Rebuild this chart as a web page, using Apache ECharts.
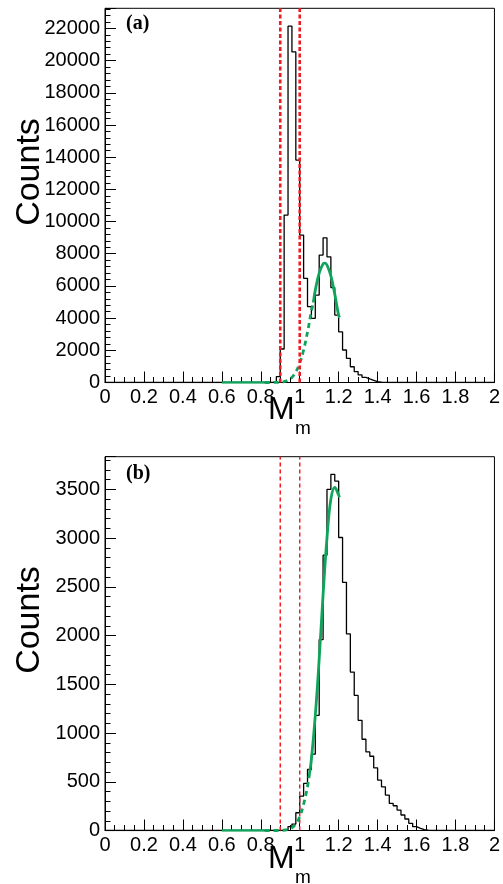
<!DOCTYPE html>
<html>
<head>
<meta charset="utf-8">
<script src="https://cdn.jsdelivr.net/npm/echarts@6/dist/echarts.min.js"></script>
<style>
  html, body { margin: 0; padding: 0; background: #fff; }
  #chart { width: 503px; height: 884px; }
</style>
</head>
<body>
<div id="chart"></div>
<script>
// ---------- data ----------
const binWidth = 0.02;
const xTickLabels = ['0', '0.2', '0.4', '0.6', '0.8', '1', '1.2', '1.4', '1.6', '1.8', '2'];

// panel (a)
const xStartA = 0.86;
const countsA = [60, 360, 2080, 10400, 22140, 20540, 13820, 9160, 6470, 4710, 3990, 5430, 7920, 8990, 7810, 5900, 4190, 3150, 2020, 1500, 980, 670, 470, 320, 220, 135, 50, 25, 10];
const yMaxA = 23250;
const fitABaseX = [0.60, 0.82];
const fitABaseY = [0, 0];
const fitADashX = [0.82, 0.84, 0.86, 0.88, 0.90, 0.92, 0.94, 0.96, 0.98, 1.00, 1.02, 1.04, 1.06, 1.07];
const fitADashY = [0, 1, 3, 8, 23, 60, 144, 320, 650, 1200, 2020, 3130, 4430, 4970];
const fitASolidX = [1.07, 1.08, 1.10, 1.12, 1.13, 1.14, 1.16, 1.18, 1.20, 1.205];
const fitASolidY = [4970, 5740, 6800, 7370, 7420, 7300, 6620, 5490, 4170, 4050];

// panel (b)
const xStartB = 0.92;
const countsB = [8, 40, 66, 182, 353, 483, 626, 783, 1182, 1959, 2825, 3500, 3654, 3585, 3006, 2546, 2017, 1625, 1386, 1130, 936, 806, 762, 643, 517, 448, 363, 278, 254, 210, 159, 118, 74, 39, 22, 8, 3];
const yMaxB = 3835;
const fitBBaseX = [0.60, 0.82];
const fitBBaseY = [0, 0];
const fitBDashX = [0.82, 0.86, 0.88, 0.90, 0.92, 0.94, 0.96, 0.98, 1.00, 1.02, 1.04, 1.05];
const fitBDashY = [0, 0, 0, 1, 4, 10, 28, 70, 140, 270, 450, 580];
const fitBSolidX = [1.05, 1.06, 1.08, 1.10, 1.12, 1.14, 1.16, 1.18, 1.20, 1.205];
const fitBSolidY = [580, 730, 1180, 1760, 2420, 3000, 3400, 3520, 3440, 3420];

// cut lines
const cutX = [0.90, 1.00];

// ---------- helpers ----------
function histData(start, counts) {
  const nBins = Math.round(2 / binWidth);
  const out = [];
  for (let i = 0; i <= nBins; i++) {
    const x = +(i * binWidth).toFixed(4);
    const idx = Math.round((x - start) / binWidth);
    const k = i === nBins ? idx - 1 : idx;
    const y = (k >= 0 && k < counts.length) ? counts[k] : 0;
    out.push([x, y]);
  }
  return out;
}
function pairs(xs, ys) { return xs.map((x, i) => [x, ys[i]]); }

const FONT = 'Liberation Sans';
const GREEN = '#0ea45a';
const RED = '#ee1c25';

function xAxisDef(gi) {
  return {
    gridIndex: gi, type: 'value', min: 0, max: 2, interval: 0.2,
    axisLine: { show: true, lineStyle: { color: '#000', width: 1 } },
    axisTick: { show: true, inside: true, length: 11, lineStyle: { color: '#000', width: 1 } },
    minorTick: { show: true, splitNumber: 4, length: 5.5, lineStyle: { color: '#000', width: 1 } },
    splitLine: { show: false },
    axisLabel: {
      color: '#000', fontFamily: FONT, fontSize: 20, margin: 5,
      formatter: v => xTickLabels[Math.round(v / 0.2)]
    }
  };
}
function yAxisDef(gi, max, interval) {
  return {
    gridIndex: gi, type: 'value', min: 0, max: max, interval: interval,
    axisLine: { show: true, lineStyle: { color: '#000', width: 1 } },
    axisTick: { show: true, inside: true, length: 11, lineStyle: { color: '#000', width: 1 } },
    minorTick: { show: true, splitNumber: 5, length: 5.5, lineStyle: { color: '#000', width: 1 } },
    splitLine: { show: false },
    axisLabel: {
      color: '#000', fontFamily: FONT, fontSize: 20, margin: 5, showMaxLabel: false,
      formatter: v => (v % interval === 0 ? String(v) : '')
    }
  };
}
function cutSeries(gi, x, max, width, dash) {
  return {
    type: 'line', xAxisIndex: gi, yAxisIndex: gi, data: [[x, 0], [x, max]],
    symbol: 'none', silent: true, z: 4,
    lineStyle: { color: RED, width: width, type: dash }
  };
}
function lineSeries(gi, data, color, width, type, smooth, z, step) {
  return {
    type: 'line', xAxisIndex: gi, yAxisIndex: gi, data: data,
    symbol: 'none', silent: true, smooth: smooth, step: step || false, z: z,
    lineStyle: { color: color, width: width, type: type }
  };
}

const chart = echarts.init(document.getElementById('chart'), null, { renderer: 'canvas' });

const option = {
  animation: false,
  backgroundColor: '#fff',
  grid: [
    { left: 105, right: 6, top: 8.3, height: 374.2, show: true, borderColor: '#000', borderWidth: 1, backgroundColor: 'transparent' },
    { left: 105, right: 6, top: 456.7, height: 373.8, show: true, borderColor: '#000', borderWidth: 1, backgroundColor: 'transparent' }
  ],
  xAxis: [xAxisDef(0), xAxisDef(1)],
  yAxis: [yAxisDef(0, yMaxA, 2000), yAxisDef(1, yMaxB, 500)],
  series: [
    lineSeries(0, histData(xStartA, countsA), '#000', 1.3, 'solid', false, 2, 'end'),
    lineSeries(0, pairs(fitABaseX, fitABaseY), GREEN, 2.5, 'solid', false, 3),
    lineSeries(0, pairs(fitADashX, fitADashY), GREEN, 2.8, [5, 4], 0.4, 3),
    lineSeries(0, pairs(fitASolidX, fitASolidY), GREEN, 2.8, 'solid', 0.4, 3),
    cutSeries(0, cutX[0], yMaxA, 2.6, [4, 2.5]),
    cutSeries(0, cutX[1], yMaxA, 2.6, [4, 2.5]),

    lineSeries(1, histData(xStartB, countsB), '#000', 1.3, 'solid', false, 2, 'end'),
    lineSeries(1, pairs(fitBBaseX, fitBBaseY), GREEN, 2.5, 'solid', false, 3),
    lineSeries(1, pairs(fitBDashX, fitBDashY), GREEN, 2.8, [5, 4], 0.4, 3),
    lineSeries(1, pairs(fitBSolidX, fitBSolidY), GREEN, 2.8, 'solid', 0.4, 3),
    cutSeries(1, cutX[0], yMaxB, 1.5, [4, 3]),
    cutSeries(1, cutX[1], yMaxB, 1.5, [4, 3])
  ],
  graphic: [
    { type: 'text', left: 126, top: 14, style: { text: '(a)', font: 'bold 20px "Liberation Serif"', fill: '#000' } },
    { type: 'text', left: 126, top: 464, style: { text: '(b)', font: 'bold 20px "Liberation Serif"', fill: '#000' } },
    { type: 'text', x: 30, y: 172, rotation: Math.PI / 2, style: { text: 'Counts', font: '34px "Liberation Sans"', fill: '#000', align: 'center', verticalAlign: 'middle' } },
    { type: 'text', x: 30, y: 620, rotation: Math.PI / 2, style: { text: 'Counts', font: '34px "Liberation Sans"', fill: '#000', align: 'center', verticalAlign: 'middle' } },
    { type: 'text', x: 268, y: 426, style: { text: 'M', font: '32px "Liberation Sans"', fill: '#000', align: 'left', verticalAlign: 'bottom' } },
    { type: 'text', x: 295, y: 438, style: { text: 'm', font: '19px "Liberation Sans"', fill: '#000', align: 'left', verticalAlign: 'bottom' } },
    { type: 'text', x: 268, y: 875, style: { text: 'M', font: '32px "Liberation Sans"', fill: '#000', align: 'left', verticalAlign: 'bottom' } },
    { type: 'text', x: 295, y: 887, style: { text: 'm', font: '19px "Liberation Sans"', fill: '#000', align: 'left', verticalAlign: 'bottom' } }
  ]
};
chart.setOption(option);
</script>
</body>
</html>
